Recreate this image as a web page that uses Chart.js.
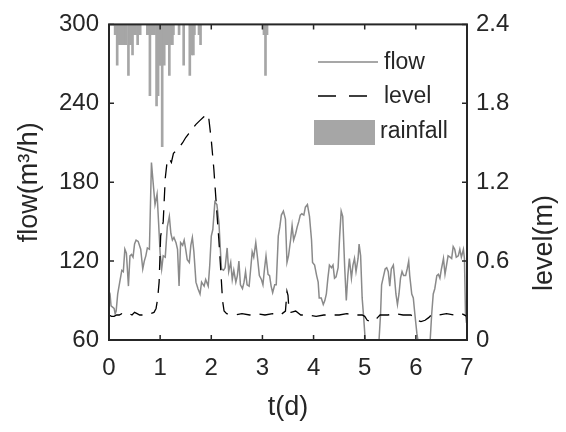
<!DOCTYPE html>
<html lang="en">
<head>
    <meta charset="UTF-8">
    <title>flow / level / rainfall</title>
    <script src="https://cdn.jsdelivr.net/npm/chart.js@4.4.1/dist/chart.umd.min.js"></script>
    <style>
        html, body { margin: 0; padding: 0; background: #fff; }
        #wrap { width: 566px; height: 432px; }
    </style>
</head>
<body>
    <div id="wrap"><canvas id="chart" width="566" height="432"></canvas></div>
    <script>
        // data (t in days)
        const flowDays = [0.00,0.02,0.04,0.07,0.10,0.12,0.14,0.17,0.21,0.25,0.28,0.31,0.34,0.38,0.41,0.44,0.47,0.50,0.53,0.57,
            0.62,0.66,0.69,0.72,0.75,0.79,0.83,0.86,0.90,0.94,0.97,1.00,1.03,1.06,1.10,1.14,1.18,1.21,1.24,1.27,
            1.31,1.34,1.37,1.40,1.44,1.47,1.50,1.53,1.57,1.60,1.63,1.66,1.70,1.74,1.78,1.81,1.86,1.89,1.94,1.97,
            2.00,2.03,2.07,2.11,2.15,2.18,2.20,2.24,2.27,2.31,2.34,2.38,2.41,2.44,2.48,2.51,2.54,2.57,2.61,2.64,
            2.67,2.70,2.74,2.77,2.80,2.83,2.87,2.90,2.94,2.98,3.01,3.04,3.07,3.11,3.14,3.17,3.20,3.24,3.27,3.31,
            3.34,3.37,3.41,3.45,3.48,3.51,3.55,3.58,3.61,3.65,3.68,3.71,3.74,3.77,3.81,3.84,3.88,3.92,3.96,3.98,
            4.02,4.06,4.09,4.11,4.15,4.19,4.22,4.25,4.28,4.31,4.35,4.38,4.41,4.44,4.48,4.51,4.54,4.57,4.61,4.64,
            4.67,4.70,4.74,4.77,4.80,4.83,4.87,4.89,4.92,4.95,4.98,5.01,5.06,5.15,5.24,5.28,5.31,5.33,5.37,5.40,
            5.43,5.46,5.49,5.52,5.56,5.58,5.61,5.64,5.67,5.70,5.73,5.76,5.80,5.83,5.86,5.88,5.92,5.95,5.98,6.02,
            6.04,6.10,6.20,6.28,6.31,6.34,6.37,6.41,6.44,6.47,6.50,6.54,6.57,6.60,6.63,6.67,6.70,6.73,6.76,6.79,
            6.83,6.86,6.89,6.93,6.95,6.97,6.99];
        const flowValues = [97,95,86,85,84,80,82,95,104,113,112,129,126,101,124,125,123,133,136,135,
            129,114,120,124,130,129,195,181,163,171,149,126,114,124,123,146,154,141,136,138,
            134,129,101,134,132,136,129,121,119,132,138,127,104,99,95,104,101,106,101,117,
            139,144,165,163,149,127,114,113,115,130,112,119,106,113,104,109,120,102,99,104,
            112,102,101,114,127,123,134,124,109,106,102,114,124,110,109,101,96,102,102,139,
            146,155,158,152,119,124,136,147,136,141,146,150,155,156,155,161,163,154,136,119,
            117,109,104,92,92,87,90,95,107,117,115,117,107,108,115,139,158,154,114,90,
            109,122,107,117,122,112,122,133,124,92,77,60,48,45,48,60,80,102,109,114,
            115,112,101,114,117,109,95,87,95,107,112,109,109,114,120,109,95,92,80,65,
            60,48,46,60,80,95,99,109,110,107,114,122,110,117,124,123,122,131,129,123,
            124,129,123,129,122,80,73];

        const levelDays = [0.00,0.05,0.10,0.15,0.20,0.25,0.30,0.40,0.45,0.50,0.55,0.60,0.65,0.70,0.80,0.88,0.92,0.95,0.98,1.01,
            1.06,1.10,1.14,1.18,1.22,1.26,1.32,1.38,1.44,1.50,1.56,1.62,1.70,1.78,1.86,1.90,1.95,2.00,2.05,2.10,
            2.15,2.19,2.22,2.25,2.30,2.45,2.60,2.75,2.90,3.05,3.20,3.35,3.45,3.48,3.50,3.52,3.56,3.65,3.75,3.90,
            4.05,4.20,4.35,4.50,4.65,4.80,4.95,5.00,5.05,5.12,5.20,5.25,5.30,5.45,5.60,5.75,5.90,5.95,6.02,6.10,
            6.18,6.25,6.30,6.45,6.60,6.75,6.90,7.00];
        const levelValues = [0.19,0.18,0.18,0.19,0.19,0.20,0.19,0.20,0.19,0.21,0.20,0.19,0.19,0.19,0.20,0.21,0.24,0.31,0.44,0.79,
            0.90,1.23,1.37,1.38,1.35,1.42,1.44,1.47,1.50,1.54,1.57,1.60,1.64,1.67,1.70,1.72,1.69,1.52,1.30,1.02,
            0.75,0.50,0.30,0.22,0.20,0.19,0.20,0.19,0.20,0.19,0.20,0.19,0.22,0.37,0.34,0.22,0.21,0.22,0.19,0.19,
            0.18,0.19,0.19,0.19,0.20,0.19,0.19,0.18,0.15,0.14,0.15,0.17,0.19,0.19,0.20,0.19,0.19,0.18,0.15,0.14,
            0.15,0.17,0.19,0.19,0.20,0.19,0.20,0.18];

        // rainfall (mm), hanging from the top of the plot
        const rainDays = [0.12,0.14,0.16,0.19,0.22,0.26,0.30,0.33,0.38,0.41,0.43,0.46,0.49,0.52,0.56,0.59,0.61,0.75,0.77,0.80,
            0.83,0.86,0.89,0.93,0.96,0.99,1.01,1.04,1.08,1.11,1.14,1.18,1.21,1.24,1.26,1.37,1.46,1.58,1.62,1.65,
            1.67,1.76,1.79,3.03,3.06,3.09];
        const rainValues = [0.2,0.2,0.8,0.4,0.4,0.4,0.4,0.4,1.0,0.4,0.4,0.6,0.2,0.2,0.4,0.2,0.2,0.2,0.2,1.4,
            0.2,0.2,0.2,1.6,1.4,0.8,0.8,2.4,0.8,0.4,0.4,1.0,0.4,0.4,0.2,0.2,0.8,1.0,0.6,0.6,
            0.2,0.2,0.4,0.2,1.0,0.2];

        const xTicks = [0, 7, 1];          // min, max, step
        const flowTicks = [60, 300, 60];
        const levelTicks = [0, 2.4, 0.6];

        const ink = '#262626';
        const fam = "'Liberation Sans', Arial, Helvetica, sans-serif";
        const flowColor = '#8a8a8a';
        const rainColor = '#a6a6a6';

        // inward ticks, box, right-hand label and the legend
        const decor = {
            id: 'decor',
            afterDatasetsDraw(chart) {
                const {ctx, chartArea: a, scales} = chart;
                ctx.save();
                ctx.strokeStyle = ink;
                ctx.lineWidth = 1.5;
                ctx.beginPath();
                scales.x.ticks.forEach(t => {
                    const p = scales.x.getPixelForValue(t.value);
                    ctx.moveTo(p, a.bottom); ctx.lineTo(p, a.bottom - 5);
                    ctx.moveTo(p, a.top); ctx.lineTo(p, a.top + 5);
                });
                scales.y.ticks.forEach(t => {
                    const p = scales.y.getPixelForValue(t.value);
                    ctx.moveTo(a.left, p); ctx.lineTo(a.left + 5, p);
                });
                scales.y1.ticks.forEach(t => {
                    const p = scales.y1.getPixelForValue(t.value);
                    ctx.moveTo(a.right, p); ctx.lineTo(a.right - 5, p);
                });
                ctx.stroke();
                ctx.lineWidth = 2;
                ctx.strokeRect(a.left, a.top, a.right - a.left, a.bottom - a.top);

                // right axis title, reading bottom to top
                ctx.fillStyle = ink;
                ctx.font = '27px ' + fam;
                ctx.textAlign = 'center';
                ctx.textBaseline = 'middle';
                ctx.translate(545, 243);
                ctx.rotate(-Math.PI / 2);
                ctx.fillText('level(m)', 0, 0);
                ctx.restore();

                // legend
                ctx.save();
                const ds = chart.data.datasets;
                ctx.font = '23px ' + fam;
                ctx.fillStyle = ink;
                ctx.textBaseline = 'middle';
                ctx.textAlign = 'left';
                ctx.strokeStyle = flowColor;
                ctx.lineWidth = 1.5;
                ctx.beginPath(); ctx.moveTo(318, 62); ctx.lineTo(378, 62); ctx.stroke();
                ctx.fillText(ds[0].label, 384, 63);
                ctx.strokeStyle = '#000';
                ctx.lineWidth = 1.4;
                ctx.setLineDash([18, 13]);
                ctx.beginPath(); ctx.moveTo(318, 96); ctx.lineTo(369, 96); ctx.stroke();
                ctx.setLineDash([]);
                ctx.fillText(ds[1].label, 384, 97);
                ctx.fillStyle = rainColor;
                ctx.fillRect(314, 120, 61, 25);
                ctx.fillStyle = ink;
                ctx.fillText(ds[2].label, 380, 132);
                ctx.restore();
            }
        };

        const tickFont = { family: fam, size: 24 };

        new Chart(document.getElementById('chart').getContext('2d'), {
            type: 'line',
            data: {
                datasets: [
                    { label: 'flow', data: flowDays.map((d,i)=>({x:d, y:flowValues[i]})), yAxisID: 'y',
                      borderColor: flowColor, borderWidth: 1.5, pointRadius: 0, tension: 0, order: 1 },
                    { label: 'level', data: levelDays.map((d,i)=>({x:d, y:levelValues[i]})), yAxisID: 'y1',
                      borderColor: '#000', borderWidth: 1.3, borderDash: [14, 9], pointRadius: 0, tension: 0, order: 0 },
                    { type: 'bar', label: 'rainfall', data: rainDays.map((d,i)=>({x:d, y:rainValues[i]})), yAxisID: 'yr',
                      backgroundColor: rainColor, borderWidth: 0, barThickness: 2, order: 2 }
                ]
            },
            options: {
                responsive: false,
                maintainAspectRatio: false,
                animation: false,
                layout: { padding: { top: 15, left: 0, right: 0, bottom: 0 } },
                plugins: { legend: { display: false }, tooltip: { enabled: false } },
                scales: {
                    x: {
                        type: 'linear', position: 'bottom', min: xTicks[0], max: xTicks[1], offset: false,
                        ticks: { stepSize: xTicks[2], color: ink, font: tickFont, padding: 14, maxRotation: 0 },
                        grid: { display: false, drawTicks: false }, border: { display: false },
                        title: { display: true, text: 't(d)', color: ink, font: { family: fam, size: 27 }, padding: { bottom: 8 } },
                        afterFit(s) { s.height = 92; }
                    },
                    y: {
                        position: 'left', min: flowTicks[0], max: flowTicks[1],
                        ticks: { stepSize: flowTicks[2], color: ink, font: tickFont, padding: 10 },
                        grid: { display: false, drawTicks: false }, border: { display: false },
                        title: { display: true, text: 'flow(m³/h)', color: ink, font: { family: fam, size: 27 }, padding: { top: 13 } },
                        afterFit(s) { s.width = 109; }
                    },
                    y1: {
                        position: 'right', min: levelTicks[0], max: levelTicks[1],
                        ticks: { stepSize: levelTicks[2], color: ink, font: tickFont, padding: 9,
                                 callback: v => v === 0 ? '0' : v.toFixed(1) },
                        grid: { display: false, drawTicks: false }, border: { display: false },
                        afterFit(s) { s.width = 99; }
                    },
                    yr: {
                        display: false, min: 0, max: 6.2, reverse: true
                    }
                }
            },
            plugins: [decor]
        });
    </script>
</body>
</html>
